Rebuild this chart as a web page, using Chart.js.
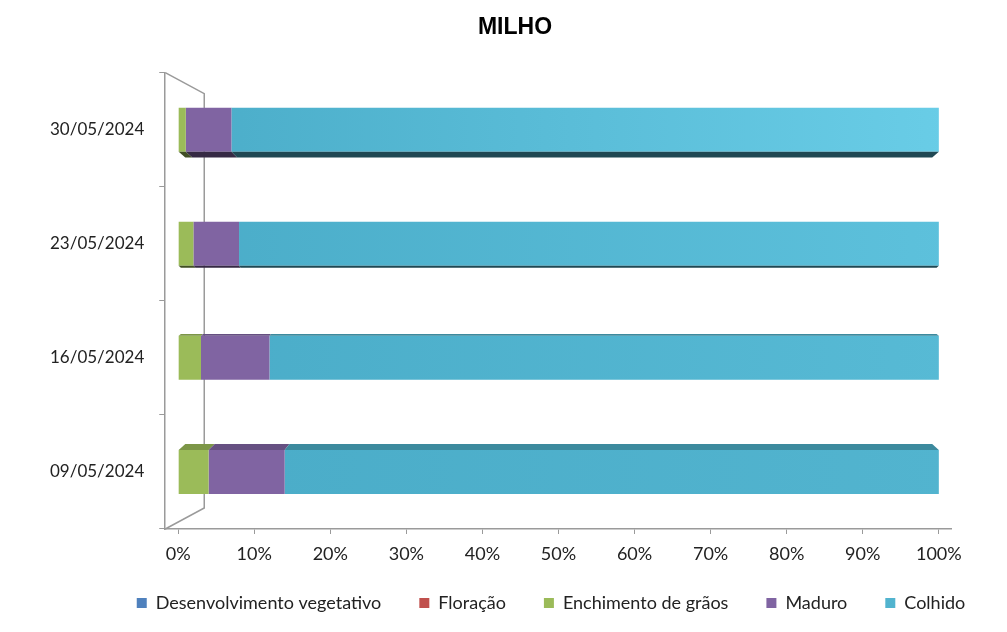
<!DOCTYPE html>
<html>
<head>
<meta charset="utf-8">
<script src="https://cdn.jsdelivr.net/npm/chart.js@4.4.1/dist/chart.umd.min.js"></script>
<style>
  html, body { margin: 0; padding: 0; background: #fff; }
  .wrap { width: 1007px; height: 632px; position: relative; }
</style>
</head>
<body>
<div class="wrap"><canvas id="milho-chart"></canvas></div>
<script>
// Chart data (percent of area per stage)
const dates = ['09/05/2024', '16/05/2024', '23/05/2024', '30/05/2024'];
const desenvolvimento = [0, 0, 0, 0];
const floracao = [0, 0, 0, 0];
const enchimento = [4, 3, 2, 1];
const maduro = [10, 9, 6, 6];
const colhido = [86, 88, 92, 93];
const xTicks = [0, 10, 20, 30, 40, 50, 60, 70, 80, 90, 100];

// lighter right end for the harvested bars (by date)
const colhidoLight = ['#52b4cf', '#57bad5', '#5dc1dc', '#69cde7'];

function shade(hex, f) {
  const n = parseInt(hex.slice(1), 16);
  const r = Math.round(((n >> 16) & 255) * f);
  const g = Math.round(((n >> 8) & 255) * f);
  const b = Math.round((n & 255) * f);
  return `rgb(${r},${g},${b})`;
}

// Back wall outline (the "3D" frame of the original)
const wallPlugin = {
  id: 'wall',
  beforeDatasetsDraw(chart) {
    const { ctx, chartArea } = chart;
    const left = chartArea.left, top = chartArea.top, bottom = chartArea.bottom;
    ctx.save();
    ctx.strokeStyle = '#9a9a9a';
    ctx.lineWidth = 1.5;
    ctx.beginPath();
    ctx.moveTo(left, top);
    ctx.lineTo(left + 39, top + 21);
    ctx.lineTo(left + 39, bottom - 21);
    ctx.lineTo(left, bottom);
    ctx.stroke();
    ctx.restore();
  }
};

// Top / bottom faces of the bars to fake the perspective
const facePlugin = {
  id: 'faces',
  afterDatasetsDraw(chart) {
    const { ctx, chartArea } = chart;
    const midY = (chartArea.top + chartArea.bottom) / 2;
    const cx = (chartArea.left + chartArea.right) / 2;
    ctx.save();
    chart.data.datasets.forEach((ds, di) => {
      const meta = chart.getDatasetMeta(di);
      meta.data.forEach((bar, i) => {
        const p = bar.getProps(['x', 'y', 'base', 'height']);
        if (Math.abs(p.x - p.base) < 0.5) return;
        const d = (p.y - midY) * 0.034;
        if (Math.abs(d) < 0.8) return;
        const s = 1 - Math.abs(d) * 0.003;
        const x1 = Math.min(p.x, p.base), x2 = Math.max(p.x, p.base);
        const yf = d > 0 ? p.y - p.height / 2 : p.y + p.height / 2;
        const yb = yf - d;
        ctx.fillStyle = shade(ds.faceColor, d > 0 ? 0.8 : 0.42);
        ctx.beginPath();
        ctx.moveTo(x1, yf);
        ctx.lineTo(x2, yf);
        ctx.lineTo(cx + (x2 - cx) * s, yb);
        ctx.lineTo(cx + (x1 - cx) * s, yb);
        ctx.closePath();
        ctx.fill();
      });
    });
    ctx.restore();
  }
};

// Title and legend sit right of the canvas centre in the original;
// the legend text is also pulled up closer to the axis
const shiftPlugin = {
  id: 'shift',
  afterLayout(chart) {
    const lg = chart.legend;
    if (lg) {
      lg.left += 58; lg.right += 58;
      lg.top -= 18;
      lg.bottom = chart.height;
    }
    const tb = chart.titleBlock;
    if (tb) {
      const dx = 515 - (tb.left + tb.right) / 2;
      tb.left += dx; tb.right += dx;
    }
  }
};

function colhidoFill(context) {
  const area = context.chart.chartArea;
  if (!area) return '#4bacc6';
  const g = context.chart.ctx.createLinearGradient(area.left, 0, area.right, 0);
  g.addColorStop(0, '#4aacc8');
  g.addColorStop(1, colhidoLight[context.dataIndex] || '#5cc0dc');
  return g;
}

const font = 'Lato, "Open Sans", "DejaVu Sans", sans-serif';

new Chart(document.getElementById('milho-chart'), {
  type: 'bar',
  data: {
    labels: dates,
    datasets: [
      { label: 'Desenvolvimento vegetativo', data: desenvolvimento, backgroundColor: '#4f81bd', faceColor: '#4f81bd' },
      { label: 'Floração', data: floracao, backgroundColor: '#c0504d', faceColor: '#c0504d' },
      { label: 'Enchimento de grãos', data: enchimento, backgroundColor: '#9bbb59', faceColor: '#9bbb59' },
      { label: 'Maduro', data: maduro, backgroundColor: '#8064a2', faceColor: '#8064a2' },
      { label: 'Colhido', data: colhido, backgroundColor: colhidoFill, faceColor: '#4bacc6' }
    ]
  },
  options: {
    indexAxis: 'y',
    responsive: true,
    maintainAspectRatio: false,
    animation: false,
    barPercentage: 0.386,
    categoryPercentage: 1,
    layout: {
      padding: { top: 12, right: 56, bottom: 8, left: 35 }
    },
    plugins: {
      title: {
        display: true,
        text: 'MILHO',
        color: '#000',
        font: { family: '"Liberation Sans", Arial, sans-serif', size: 23, weight: 'bold' },
        padding: { top: 2, bottom: 31 }
      },
      legend: {
        position: 'bottom',
        maxHeight: 50,
        labels: {
          boxWidth: 10,
          boxHeight: 10,
          padding: 38,
          color: '#222',
          font: { family: font, size: 18 }
        }
      },
      tooltip: { enabled: false }
    },
    scales: {
      x: {
        stacked: true,
        min: -1.7,
        max: 101.6,
        afterBuildTicks: scale => {
          scale.ticks = xTicks.map(v => ({ value: v }));
        },
        grid: {
          drawOnChartArea: false,
          drawTicks: true,
          tickLength: 5,
          color: '#9a9a9a'
        },
        border: { color: '#9a9a9a', width: 1.5 },
        ticks: {
          color: '#222',
          padding: 11,
          font: { family: font, size: 18, lineHeight: 1 },
          callback: v => v + '%'
        }
      },
      y: {
        stacked: true,
        reverse: true,
        grid: {
          drawOnChartArea: false,
          drawTicks: true,
          tickLength: 6,
          color: '#9a9a9a'
        },
        border: { color: '#9a9a9a', width: 1.5 },
        ticks: {
          color: '#222',
          padding: 15,
          font: { family: font, size: 17 }
        }
      }
    }
  },
  plugins: [wallPlugin, facePlugin, shiftPlugin]
});
</script>
</body>
</html>
